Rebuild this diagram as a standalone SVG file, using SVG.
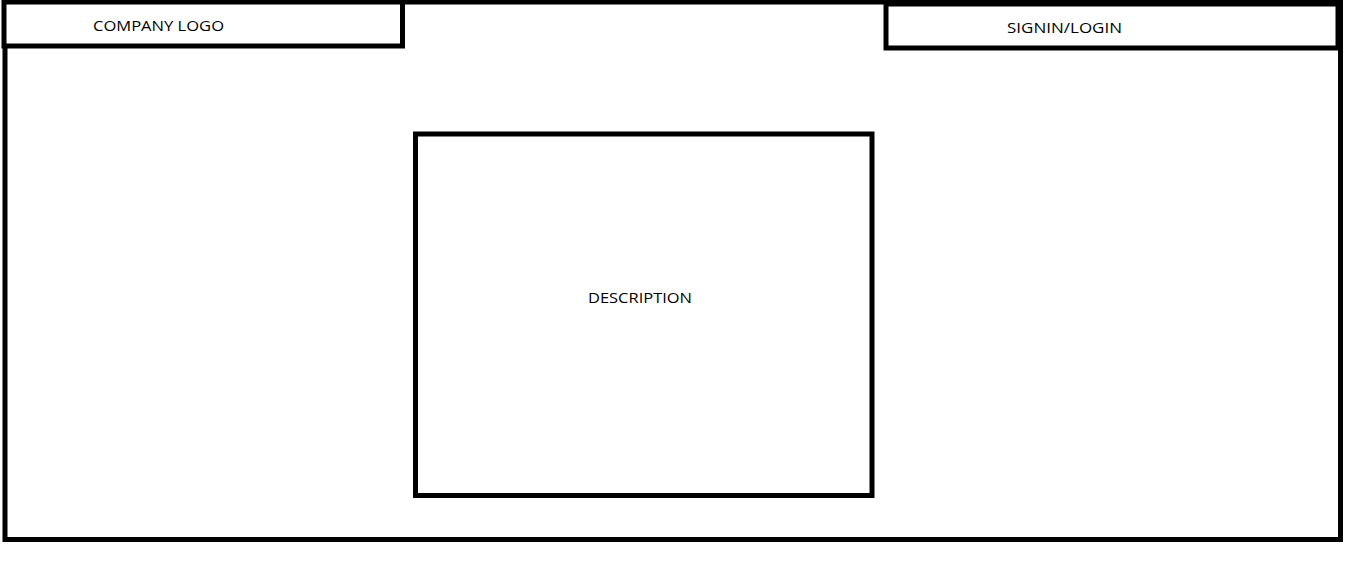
<svg xmlns="http://www.w3.org/2000/svg" width="1360" height="571" viewBox="0 0 1360 571">
<style>
.box{fill:#fff;stroke:#000;stroke-width:5}
.lbl{font-family:"Open Sans","Noto Sans",sans-serif;font-size:15px;fill:#000;text-anchor:middle}
</style>
<rect width="1360" height="571" fill="#fff"/>
<g id="page"><rect class="box" x="5" y="2" width="1335.5" height="537.5"/></g>
<g id="logo"><rect class="box" x="4" y="2" width="398.5" height="44"/><text class="lbl" x="158.5" y="31" textLength="131" lengthAdjust="spacingAndGlyphs">COMPANY LOGO</text></g>
<g id="signin"><rect class="box" x="886" y="4" width="452" height="44"/><text class="lbl" x="1064.5" y="33" textLength="115" lengthAdjust="spacingAndGlyphs">SIGNIN/LOGIN</text></g>
<g id="description"><rect class="box" x="415.5" y="134" width="456.5" height="361.5"/><text class="lbl" x="640" y="303" textLength="104" lengthAdjust="spacingAndGlyphs">DESCRIPTION</text></g>
<g id="connectors"/>
</svg>
